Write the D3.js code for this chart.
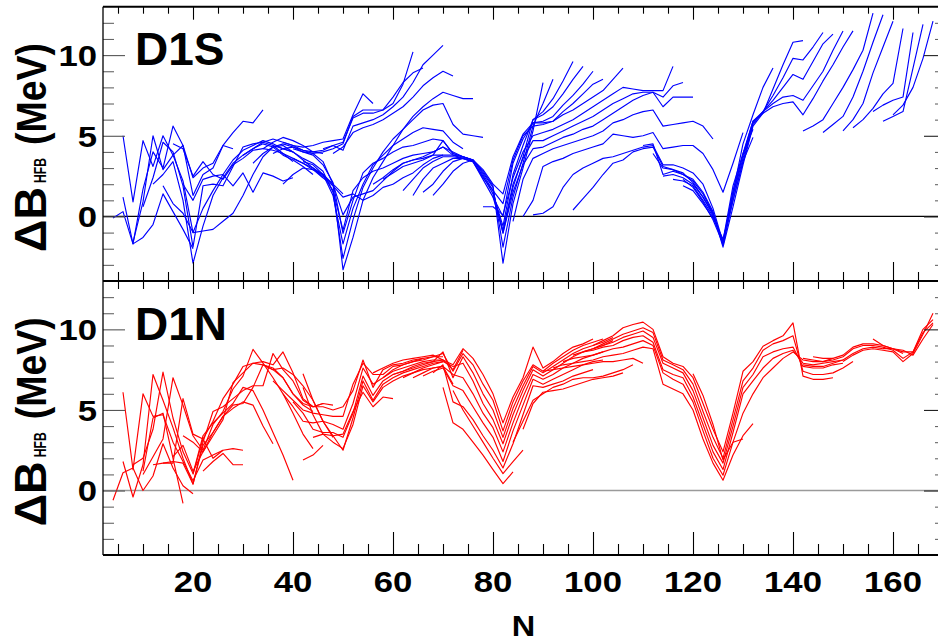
<!DOCTYPE html>
<html>
<head>
<meta charset="utf-8">
<script src="https://cdn.jsdelivr.net/npm/d3@7"></script>
<style>
html,body{margin:0;padding:0;background:#fff;}
svg{display:block;font-family:"Liberation Sans",Arial,Helvetica,sans-serif;font-weight:bold;}
</style>
</head>
<body>
<svg id="chart" width="938" height="643"></svg>
<script>
// ================= DATA =================
// tick labels
const xTickLabels = [20, 40, 60, 80, 100, 120, 140, 160];
const yTickLabels = [0, 5, 10];
const panelNames = ["D1S", "D1N"];

// Each chain: n0 = first N, v = ΔB values at N = n0, n0+2, n0+4, ...
// ---- D1S (top, blue) ----
const d1sLight = [
  {n0:4,  v:[-0.1,0.3,-1.7,-1.3,-0.5,1.4,0.3,-0.8,-2.0]},
  {n0:6,  v:[5.0,0.9,4.7,3.1,5.0,3.8,4.4,2.4,3.0,3.3,4.4,4.2]},
  {n0:6,  v:[1.2,-1.7,1.7,4.0,3.0,5.6,4.4,1.3,2.6,3.0,4.4,5.2,5.9,5.8,6.6]},
  {n0:8,  v:[-1.6,0.9,5.0,2.9,3.8,2.2,-1.0,0.5,1.6,2.6,3.5,4.1,4.4,4.7,4.5,4.2,4.0]},
  {n0:10, v:[0.6,2.4,4.6,4.0,1.9,-1.9,1.9,2.0,1.9,3.1,4.3,4.5,4.6,4.4,3.9,3.4]},
  {n0:12, v:[2.0,2.6,3.4,1.0,-2.9,-0.6,1.3,2.4,3.3,3.8,4.2,4.5,4.3,3.8,3.5,3.1,2.6]},
  {n0:14, v:[1.9,0.8,0.2,-1.0,-0.9,-0.8,-0.3,0.2,1.3,2.6,3.7,4.3,4.4,4.0,3.5,3.0,2.4]},
  {n0:18, v:[2.0,1.0,2.3,2.5,2.6,1.9,2.7,1.5,2.7,2.5,2.2,2.4]},
  {n0:16, v:[4.5,4.2,2.5,3.4,2.6,2.3,3.2,3.6,4.1,4.2,4.6,4.9,4.7,4.4,4.0,3.9]}
];
const d1sN50 = [
  {n0:30, v:[3.8,4.2,4.6,4.8,4.6,4.4,4.3,4.4,4.6,4.7,4.8,6.3,7.6,7.0]},
  {n0:32, v:[3.3,3.9,4.3,4.5,4.3,4.0,3.9,4.0,4.2,4.5,6.2,6.6,6.6,6.6,7.0,8.2,10.2]},
  {n0:36, v:[3.9,4.2,4.3,4.1,4.0,4.1,4.4,4.6,6.1,6.4,6.4,6.6,7.4,8.3,8.9,9.2]},
  {n0:46, v:[4.2,4.4,4.1,5.6,5.8,6.0,6.3,6.8,7.4,8.3,9.4,10.0,10.6]},
  {n0:48, v:[3.9,4.3,5.2,5.5,5.7,6.0,6.4,6.8,7.4,8.1,8.6,9.0,8.7]},
  {n0:38, v:[4.6,4.4,4.1,3.9,3.4,2.0,-3.3,-1.3,1.0,2.4,3.4,4.4,5.4,6.2,6.8,7.3,7.7,7.5,7.3,7.3]},
  {n0:36, v:[4.4,4.2,4.0,3.6,3.3,2.8,1.5,-2.6,-0.2,1.8,3.0,4.0,4.8,5.4,6.0,6.6,6.9,7.0,5.7,5.1,5.0,4.9]},
  {n0:34, v:[4.2,4.1,3.9,3.6,3.3,3.0,2.6,1.3,-1.7,0.5,2.0,3.2,3.8,4.4,4.8,5.2,5.5,5.4,5.3,4.6,4.2]},
  {n0:40, v:[4.2,4.0,3.8,3.2,2.1,-1.05,1.0,2.7,3.3,3.6,4.0,4.3,4.4,4.6,4.8,4.7,3.9,3.7,3.5]},
  {n0:42, v:[3.4,3.2,2.6,1.6,-0.85,1.6,2.4,2.8,3.0,3.3,3.6,3.8,3.9,4.0,4.3,3.8,3.6]},
  {n0:44, v:[3.0,2.5,2.0,0.1,1.2,1.4,1.6,2.2,2.8,3.3,3.5,3.6,3.8,3.8]},
  {n0:40, v:[3.6,3.3,2.9,2.4,1.9,1.2,1.4,1.0,1.3,1.8,2.0]},
  {n0:38, v:[2.0,2.6,3.0,2.9,2.6,2.0,1.4]}
];
const d1sN82 = [
  {n0:56, v:[2.0,2.4,2.9,3.3,3.5,3.7,4.0,4.3,4.0,3.7,3.5,2.8,1.9,-2.9,0.8,3.0,5.3,8.3]},
  {n0:58, v:[2.3,2.7,3.1,3.3,3.5,3.8,4.7,3.9,3.7,3.5,2.7,1.8,-1.9,1.2,3.3,5.6,7.0,8.5]},
  {n0:60, v:[2.0,2.4,2.7,3.2,3.6,3.8,3.8,3.7,3.5,2.6,1.6,-1.0,1.8,3.7,6.0,6.5,7.3,8.4,9.6]},
  {n0:62, v:[1.6,2.3,3.0,3.4,3.7,3.7,3.6,3.4,2.5,1.4,-0.6,2.6,4.4,6.0,6.3,6.8,7.6,8.5,9.3]},
  {n0:64, v:[1.3,2.3,3.0,3.3,3.6,3.6,3.4,2.3,1.2,0.0,3.3,4.8,5.8,5.9,6.2,6.9,7.5,8.2,9.0]},
  {n0:66, v:[1.5,2.0,2.8,3.4,3.6,3.4,2.4,1.6,0.8,3.5,5.0,5.6,5.7,5.9,6.5,7.0,7.6,8.2,8.5]},
  {n0:68, v:[1.3,2.0,2.8,3.3,3.5,2.9,2.0,1.4,3.7,5.1,5.8,5.8,5.9,6.3,6.6,7.0,7.4,7.8,8.5,9.2]}
];
const d1sMid = [
  {n0:78, v:[0.6,0.6,0.1,2.4,4.0,5.0,5.2,5.4,5.7,6.0,6.4,6.8,7.2,7.6,8.0,7.9,7.8,7.8,7.8,9.3]},
  {n0:80, v:[1.2,-0.85,2.0,3.6,4.7,4.7,5.0,5.3,5.6,5.9,6.2,6.6,7.0,7.3,7.6,7.7,7.7,7.4,8.1,8.3]},
  {n0:80, v:[1.5,-1.05,1.5,3.2,4.2,4.3,4.6,4.9,5.1,5.4,5.6,6.0,6.4,6.8,7.2,7.5,7.7,6.8,7.4,7.4,7.4]},
  {n0:84, v:[-0.3,2.3,3.6,3.9,4.2,4.4,4.6,4.8,5.0,5.3,5.8,6.0,6.3,6.5,6.6,5.6,5.7,5.8,5.9,5.6,4.8]},
  {n0:86, v:[0.0,1.0,3.1,3.4,3.6,3.9,4.1,4.3,4.5,5.1,5.0,4.9,5.0,5.2,4.2,4.3,4.4,4.4,3.9,2.9,1.5,3.3,5.2]},
  {n0:88, v:[0.1,0.2,0.6,1.8,2.6,3.0,3.3,3.6,3.7,3.9,4.1,4.3,4.4,3.2,3.2,3.0,2.7,2.0,0.5,-1.6,1.3,3.9,5.4]},
  {n0:96, v:[0.4,1.1,1.8,2.6,3.3,3.5,4.0,4.2,4.3,3.1,2.9,2.7,2.1,1.2,0.2,-1.9,0.6,3.2,5.6,6.4,7.9,9.4,10.8,10.9]}
];
const d1sN126 = [
  {n0:110, v:[4.4,4.5,2.6,2.8,2.6,2.3,1.5,0.3,-1.8,1.0,3.4,5.7,6.5,7.5,8.6,9.8,9.7,10.5,11.4]},
  {n0:112, v:[3.9,3.0,2.9,2.6,2.2,1.4,0.2,-1.7,1.3,3.6,5.8,6.5,7.2,8.0,8.8,8.5,9.6,10.7,11.3]},
  {n0:114, v:[2.5,2.6,2.4,2.0,1.2,0.1,-1.6,1.6,3.8,5.9,6.5,7.0,7.4,7.5,7.2,8.1,9.0,10.3,11.5]},
  {n0:116, v:[2.3,2.2,1.9,1.0,0.0,-1.5,1.9,3.9,5.9,6.4,6.8,7.0,7.1,6.3,7.3,8.4,9.4,10.5,11.5]},
  {n0:118, v:[1.9,1.6,0.8,-0.1,-1.4,1.0,3.4,4.9]},
  {n0:118, v:[2.3,1.8,0.9,-0.2,-1.7,1.5,4.5,6.3,8.0,9.2]}
];
const d1sHeavy = [
  {n0:142, v:[5.3,5.6,6.0,7.0,8.0,9.1,10.3,12.6]},
  {n0:146, v:[5.2,5.7,6.2,7.4,9.0,10.8,12.5]},
  {n0:150, v:[5.3,6.0,7.0,8.9,10.5,12.1]},
  {n0:152, v:[5.5,6.0,6.7,7.6,8.25,11.65]},
  {n0:156, v:[6.5,6.9,7.2,7.4,11.4]},
  {n0:158, v:[5.9,6.2,6.5,9.2,11.9]},
  {n0:160, v:[6.3,6.9,8.0,9.8,12.1]}
];

// ---- D1N (bottom, red) ----
const d1nLight = [
  {n0:4,  v:[-0.6,1.1,1.4,0.0,0.9,2.9,1.4,0.3,-0.2]},
  {n0:6,  v:[6.1,1.3,6.0,4.6,4.7,3.0,1.8,0.6,1.9,2.2,2.5]},
  {n0:6,  v:[1.8,-0.4,1.6,7.2,5.6,3.9,2.0,0.4,2.8,3.6,4.6,5.1,5.5,5.3,4.0,2.9]},
  {n0:8,  v:[1.6,2.0,3.8,7.35,4.5,2.4,1.05,3.4,4.2,4.8,5.4,6.4,6.2,5.0,3.6,2.2,0.64]},
  {n0:10, v:[1.0,2.1,3.2,7.0,5.3,3.4,2.5,4.1,4.9,6.3,7.1,8.76,7.9,7.0,6.0,4.8,3.5,2.6]},
  {n0:12, v:[1.6,1.7,1.7,5.7,3.5,3.2,4.3,5.7,6.6,7.7,7.9,7.8,7.6,7.0,6.0,5.3,4.9]},
  {n0:14, v:[1.7,1.8,1.7,0.4,3.0,4.9,5.2,5.7,6.2,6.5,6.5,8.5,7.5,6.8,5.6,5.2,5.4]},
  {n0:16, v:[2.1,2.8,1.2,2.4,3.4,4.4,6.7,7.3,7.9,8.0,7.8,8.6,7.3,5.7,5.2,5.4,5.3]},
  {n0:10, v:[1.2,4.5,4.8,2.0,-0.8]},
  {n0:18, v:[3.4,3.0,2.4,3.6,4.6,5.3,5.4,6.4,7.8,7.5,7.6,7.2,6.5,5.6,4.3,3.3]},
  {n0:20, v:[1.0,3.2,2.0,2.5,2.6,2.5]},
  {n0:22, v:[1.2,1.8,2.3,1.6,1.6]}
];
const d1nN50 = [
  {n0:34, v:[7.8,7.5,7.0,6.0,5.4,5.2,5.2,5.0,5.2,6.2,8.1,6.4,7.5,7.8,7.9,8.1,8.2]},
  {n0:36, v:[6.8,6.2,5.6,5.0,4.8,4.7,4.6,4.6,6.6,7.9,7.2,7.2,7.7,7.8,8.0,8.2,8.3,8.3]},
  {n0:38, v:[6.0,5.2,4.3,4.2,4.3,4.1,3.8,5.4,7.6,6.6,7.0,7.4,7.6,7.8,8.0,8.1,8.1,7.5,8.7]},
  {n0:40, v:[5.5,4.8,3.8,3.6,3.6,3.3,4.8,7.1,5.9,6.8,7.2,7.4,7.6,7.8,8.0,8.1]},
  {n0:42, v:[7.25,5.6,4.3,3.4,2.5,4.5,6.8,5.6,6.6,7.0,7.3,7.5,7.7,7.9,8.0]},
  {n0:42, v:[6.4,4.7,3.5,3.0,2.6,4.1,6.5,5.5,6.4,6.8,7.1,7.3,7.5,7.6,7.7,6.6]},
  {n0:42, v:[1.9,2.2,2.8]},
  {n0:44, v:[3.3,3.5,3.4,3.5,4.9,6.1,5.2,5.8,5.7]}
];
const d1nN82 = [
  {n0:56, v:[7.3,7.6,7.9,8.1,8.2,8.3,8.4,8.1,7.8,8.8,8.2,7.2,6.0,4.2,5.8,7.0,8.9,7.6,8.0,8.5,8.9,9.1,9.4]},
  {n0:58, v:[7.0,7.5,7.8,8.0,8.1,8.3,8.5,7.4,8.5,7.8,6.6,5.6,3.7,5.5,6.8,7.8,7.4,7.9,8.3,8.7,9.0,9.2,9.4]},
  {n0:60, v:[7.2,7.4,7.7,7.9,8.0,8.6,7.0,8.3,7.3,6.0,5.0,3.3,5.1,6.5,7.7,7.3,7.7,8.1,8.5,8.8,9.0,9.2,9.5]},
  {n0:62, v:[7.0,7.3,7.6,7.8,8.0,7.7,7.9,6.8,5.4,4.4,2.9,4.7,6.2,7.5,7.1,7.5,7.9,8.3,8.6,8.8,9.0,9.3]},
  {n0:64, v:[7.0,7.3,7.6,7.7,7.2,7.0,6.0,4.8,3.9,2.4,4.2,5.8,7.2,6.9,7.2,7.6,7.9,8.2,8.4,8.6]},
  {n0:66, v:[7.1,7.4,7.6,6.5,6.2,5.2,4.2,3.3,1.8,3.7,5.3,6.9,6.6,6.9,7.2,7.5,7.8,8.0,8.1]},
  {n0:68, v:[7.3,7.8,5.5,5.2,4.4,3.4,2.5,1.4,2.9,4.7,6.5,6.4,6.6,6.8,7.1,7.3,7.5]},
  {n0:70, v:[6.4,4.2,3.8,3.0,2.2,1.3,0.43,1.15]},
  {n0:72, v:[6.2,5.0,4.0,3.0,2.0,1.05,1.8,2.5]},
  {n0:84, v:[3.0,4.3,5.6,6.0,6.4,6.6,6.9,7.0,7.0,7.1,7.3,7.5,7.8]},
  {n0:86, v:[3.8,5.4,6.1,6.2,6.3,6.5,6.7,6.9,7.0,7.1,7.3]}
];
const d1nN126 = [
  {n0:100, v:[9.0,9.3,9.6,10.1,10.3,10.45,10.0,8.3,7.9,7.7,7.0,5.4,3.8,2.4,4.8,7.4,8.0,8.95,9.3,9.6,10.4,7.1,6.9,6.9,7.0]},
  {n0:100, v:[8.8,9.1,9.4,9.7,9.9,10.1,9.8,8.1,7.8,7.5,6.6,4.9,3.3,2.0,4.4,6.8,7.6,8.7,9.1,9.3,9.6,7.4,7.2,7.2,7.3,7.6,8.0]},
  {n0:98,  v:[8.6,8.8,9.0,9.2,9.5,9.7,9.9,9.5,7.9,7.6,7.3,6.2,4.5,2.8,1.7,4.0,6.4,7.2,8.3,8.6,8.8,8.9,7.7,7.6,7.6,7.8,7.9]},
  {n0:96,  v:[8.4,8.6,8.7,8.9,9.0,9.3,9.5,9.6,9.2,7.5,7.2,7.0,5.8,4.1,2.4,1.3,3.6,6.0,6.8,7.6,8.2,8.5,8.7,7.9,7.8,7.9,8.0,8.1]},
  {n0:94,  v:[8.0,8.2,8.3,8.4,8.6,8.8,8.9,9.1,9.3,9.0,7.3,6.9,6.6,5.5,3.7,2.0,0.95,3.0,4.8,6.0,7.0,7.6,8.2,8.6,8.1,8.0,8.0,8.2]},
  {n0:92,  v:[7.6,7.8,7.9,8.0,8.1,8.3,8.4,8.5,8.7,8.9,8.8,6.6,6.3,6.0,5.0,3.2,1.7,0.64,2.2,3.4,4.15]},
  {n0:90,  v:[7.4,7.5,7.6,7.7,7.8,7.9,8.0,8.0,8.1,8.2,7.9]},
  {n0:120, v:[7.25,5.9,4.1,1.9,3.0,3.2]}
];
const d1nHeavy = [
  {n0:142, v:[7.8,7.7,7.7,7.9,8.1,8.5,8.8,8.9,8.8,8.8,8.5]},
  {n0:142, v:[8.2,8.1,8.0,8.1,8.3,8.8,9.0,9.0,8.9,8.7,8.2,8.6,10.0,10.6]},
  {n0:144, v:[8.3,8.2,8.2,8.4,8.9,9.1,9.1,9.0,8.8,8.6,8.6,9.8,10.4]},
  {n0:156, v:[9.4,9.0,8.8,8.7,8.4,9.4,10.3]},
  {n0:150, v:[8.0,8.4,8.7,8.8,8.7,8.6,8.0,8.5,9.7,11.0]}
];

// ================= DRAWING =================
const svg = d3.select("#chart");
const X0 = 103, X1 = 946;
const x = d3.scaleLinear().domain([2, 170.6]).range([X0, X1]);

const panels = [
  {name: panelNames[0], top: 6.7, bottom: 281, color: "#0000ff",
   groups: [d1sLight, d1sN50, d1sN82, d1sMid, d1sN126, d1sHeavy],
   zeroColor: "#000", zeroWidth: 1.2, botMajor: 19, botMinor: 9, topMajor: 13, topMinor: 7},
  {name: panelNames[1], top: 281, bottom: 555, color: "#ff0000",
   groups: [d1nLight, d1nN50, d1nN82, d1nN126, d1nHeavy],
   zeroColor: "#9a9a9a", zeroWidth: 1.6, botMajor: 23, botMinor: 11, topMajor: 13, topMinor: 8}
];

const majorX = d3.range(20, 171, 20);
const minorX = d3.range(5, 171, 5).filter(n => n % 20 !== 0);
const majorY = [0, 5, 10];
const minorY = d3.range(-3, 13).filter(v => v % 5 !== 0);

function addAxis(g, gen, scale, vals, size, transform, color) {
  g.append("g").attr("transform", transform).attr("color", color)
    .call(gen(scale).tickValues(vals).tickSize(size).tickSizeOuter(0).tickFormat(""))
    .call(s => s.select(".domain").remove())
    .selectAll("line").attr("stroke-width", 1.1);
}

panels.forEach((p, pi) => {
  const y = d3.scaleLinear().domain([-4, 13]).range([p.bottom, p.top]);
  const g = svg.append("g");
  const clipId = "clip" + pi;
  svg.append("clipPath").attr("id", clipId).append("rect")
    .attr("x", X0).attr("y", p.top).attr("width", X1 - X0).attr("height", p.bottom - p.top);

  // zero line
  g.append("line").attr("x1", X0).attr("x2", X1).attr("y1", y(0)).attr("y2", y(0))
    .attr("stroke", p.zeroColor).attr("stroke-width", p.zeroWidth);

  // isotopic chains
  const line = d3.line().x(d => x(d[0])).y(d => y(d[1]));
  const chains = p.groups.flat();
  g.append("g").attr("clip-path", `url(#${clipId})`)
    .selectAll("path").data(chains).join("path")
    .attr("d", c => line(c.v.map((val, i) => [c.n0 + 2 * i, val])))
    .attr("fill", "none").attr("stroke", p.color).attr("stroke-width", 1.15)
    .attr("stroke-linejoin", "round");

  // x ticks (top and bottom of the panel)
  addAxis(g, d3.axisBottom, x, majorX, p.topMajor, `translate(0,${p.top})`, "#000");
  addAxis(g, d3.axisBottom, x, minorX, p.topMinor, `translate(0,${p.top})`, "#000");
  addAxis(g, d3.axisTop, x, majorX, p.botMajor, `translate(0,${p.bottom})`, "#000");
  addAxis(g, d3.axisTop, x, minorX, p.botMinor, `translate(0,${p.bottom})`, "#000");
  // y ticks (left and right)
  addAxis(g, d3.axisRight, y, majorY, 22, `translate(${X0},0)`, "#555");
  addAxis(g, d3.axisRight, y, minorY, 11, `translate(${X0},0)`, "#666");
  addAxis(g, d3.axisLeft, y, majorY, 22, `translate(${X1},0)`, "#222");
  addAxis(g, d3.axisLeft, y, minorY, 11, `translate(${X1},0)`, "#666");

  // frame
  g.append("line").attr("x1", X0).attr("x2", X1).attr("y1", p.top).attr("y2", p.top)
    .attr("stroke", "#000").attr("stroke-width", 2);
  g.append("line").attr("x1", X0).attr("x2", X1).attr("y1", p.bottom).attr("y2", p.bottom)
    .attr("stroke", "#000").attr("stroke-width", 2);
  g.append("line").attr("x1", X0).attr("x2", X0).attr("y1", p.top).attr("y2", p.bottom)
    .attr("stroke", "#000").attr("stroke-width", 1.3);

  // y tick labels
  g.selectAll("text.ytl").data(yTickLabels).join("text").attr("class", "ytl")
    .attr("x", 97).attr("y", d => y(d) + 10.8)
    .attr("text-anchor", "end").attr("font-size", 30)
    .attr("textLength", d => 19.3 * String(d).length).attr("lengthAdjust", "spacingAndGlyphs")
    .text(d => d);

  // panel name
  g.append("text").attr("x", 135).attr("y", p.top + 58.5)
    .attr("font-size", 46).text(p.name);

  // y axis title (rotated)
  const base = 252 + (p.top - 6.7);
  const t = g.append("g").attr("transform", `translate(46,${base}) rotate(-90)`);
  t.append("text").attr("x", 0).attr("y", 0).attr("font-size", 45)
    .attr("textLength", 65).attr("lengthAdjust", "spacingAndGlyphs").text("\u0394B");
  t.append("text").attr("x", 69).attr("y", 0).attr("font-size", 17)
    .attr("textLength", 25).attr("lengthAdjust", "spacingAndGlyphs").text("HFB");
  t.append("text").attr("x", 107).attr("y", 0).attr("font-size", 43)
    .attr("textLength", 102).attr("lengthAdjust", "spacingAndGlyphs").text("(MeV)");
});

// x tick labels (bottom panel only)
svg.selectAll("text.xtl").data(xTickLabels).join("text").attr("class", "xtl")
  .attr("x", d => x(d)).attr("y", 592).attr("text-anchor", "middle").attr("font-size", 30)
  .attr("textLength", d => 19.3 * String(d).length).attr("lengthAdjust", "spacingAndGlyphs")
  .text(d => d);

// x axis title
svg.append("text").attr("x", 523.5).attr("y", 636).attr("text-anchor", "middle")
  .attr("font-size", 30).attr("textLength", 23.5).attr("lengthAdjust", "spacingAndGlyphs").text("N");
</script>
</body>
</html>
